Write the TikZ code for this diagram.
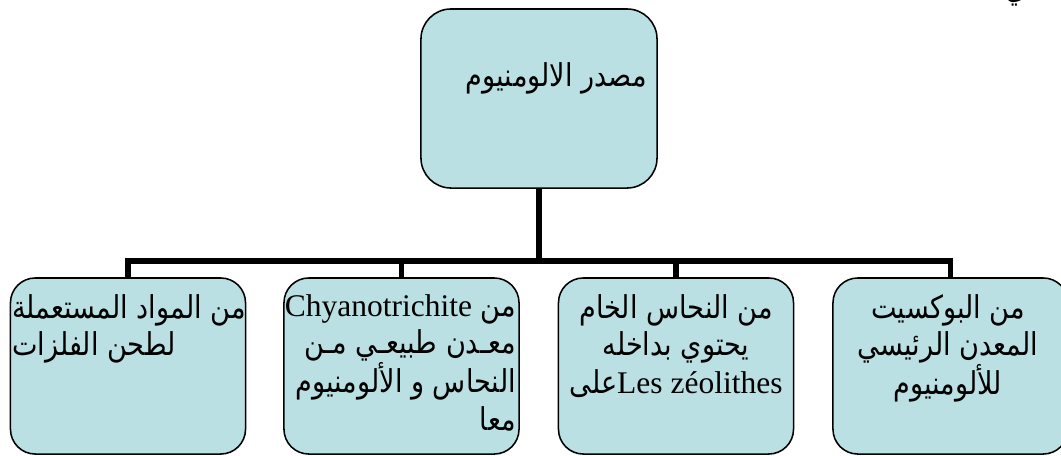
\documentclass[tikz,border=0pt]{standalone}
\usepackage{fontspec}
\setmainfont{Liberation Serif}
\newfontfamily\arabicfont[Script=Arabic, FakeStretch=0.86]{DejaVu Sans}
\TeXXeTstate=1
\definecolor{boxfill}{RGB}{187,224,227}
\tikzset{
  box/.style={draw=black, line width=1.1pt, fill=boxfill, rounded corners=0.62cm,
    minimum width=5.875cm, minimum height=4.4cm, inner sep=0pt},
  boxtext/.style={font=\arabicfont\fontsize{22.4}{26.6}\selectfont, inner sep=0pt},
  link/.style={line width=3.9pt}
}
\begin{document}
\begin{tikzpicture}[x=0.025cm, y=-0.025cm]
\useasboundingbox (0,0) rectangle (1061,455);

% boites
\node[box, rounded corners=0.75cm, minimum width=5.9cm, minimum height=4.475cm] (top) at (539,98.5) {};
\node[box] (b1) at (128,366) {};
\node[box] (b2) at (401.5,366) {};
\node[box] (b3) at (676,366) {};
\node[box] (b4) at (950.5,366) {};

% liaisons
\draw[link] (top.south) -- ++(0,72) coordinate (fork);
\draw[link] (b1.north) |- (fork) -| (b4.north);
\draw[link] (b2.north) -- (b2.north |- fork);
\draw[link] (b3.north) -- (b3.north |- fork);

% textes
\node[boxtext, anchor=base east] (ttop) at (647,86) {\beginR مصدر الالومنيوم\endR};
\node[boxtext, align=left, anchor=north west] (t1) at (12,294)
  {\beginR من المواد المستعملة\endR\\ \beginR لطحن الفلزات\endR};
\node[boxtext, align=right, anchor=north east] (t2) at (516,294)
  {\beginR من {\rmfamily\beginL Chyanotrichite\endL}\endR\\
   \beginR معـدن طبيعـي مـن\endR\\
   \beginR النحاس و الألومنيوم\endR\\
   \beginR معا\endR};
\node[boxtext, align=center, anchor=north] (t3) at (676,294)
  {\beginR من النحاس الخام\endR\\
   \beginR يحتوي بداخله\endR\\
   \beginR{\rmfamily\beginL Les zéolithes\endL}على\endR};
\node[boxtext, align=center, anchor=north] (t4) at (948,294)
  {\beginR من البوكسيت\endR\\
   \beginR المعدن الرئيسي\endR\\
   \beginR للألومنيوم\endR};
\node[boxtext, anchor=base] (stray) at (1016,-2) {\beginR ي\endR};
\end{tikzpicture}
\end{document}
